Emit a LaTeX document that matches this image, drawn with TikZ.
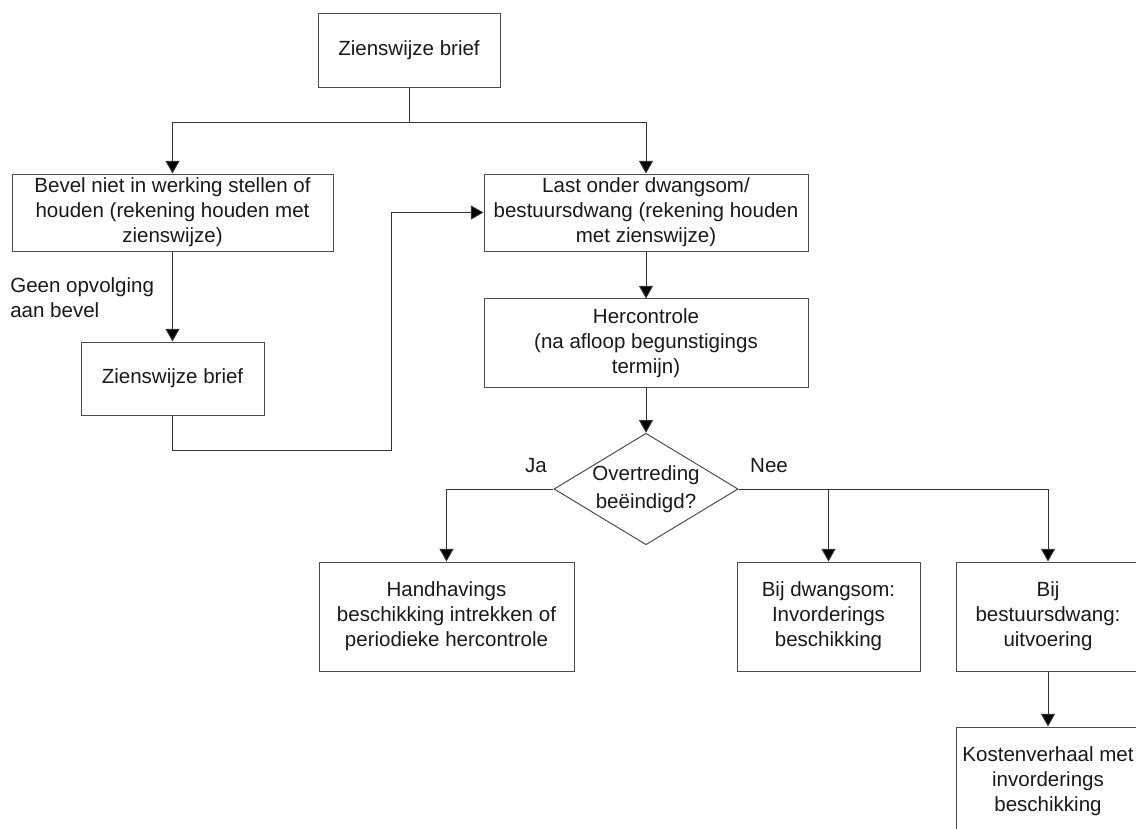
\documentclass[tikz,border=0pt]{standalone}
\usepackage{fontspec}
\setmainfont{Liberation Sans}
\usetikzlibrary{arrows.meta, positioning, shapes.geometric}

\begin{document}
\begin{tikzpicture}[
    box/.style={rectangle, draw=black!70, line width=0.7pt, align=center,
        inner sep=2pt, text=black!90, font=\fontsize{14.6}{17.8}\selectfont},
    decision/.style={diamond, draw=black!70, line width=0.7pt, align=center,
        inner sep=0pt, aspect=1.65, minimum width=4.5cm, minimum height=2.725cm,
        text=black!90, font=\fontsize{14.6}{19.5}\selectfont},
    note/.style={align=left, inner sep=0pt, text=black!90,
        font=\fontsize{14.6}{17.8}\selectfont},
    line/.style={draw=black!80, line width=0.7pt},
    >={Triangle[length=9pt, width=10pt, fill=black]}
]
\useasboundingbox (0,0) rectangle (28.4,-20.725);

% Nodes
\node[box, minimum width=4.55cm, minimum height=1.85cm] (brief1) at (10.225,-1.25) {Zienswijze brief};
\node[box, minimum width=8.025cm, minimum height=1.925cm] (bevel) at (4.3125,-5.3125)
    {Bevel niet in werking stellen of\\houden (rekening houden met\\zienswijze)};
\node[box, minimum width=8.1cm, minimum height=1.925cm] (last) at (16.15,-5.3125)
    {Last onder dwangsom/\\bestuursdwang (rekening houden\\met zienswijze)};
\node[box, minimum width=4.575cm, minimum height=1.825cm] (brief2) at (4.3125,-9.4625) {Zienswijze brief};
\node[box, minimum width=8.1cm, minimum height=2.225cm, below=1.175cm of last] (herc)
    {Hercontrole\\(na afloop begunstigings\\termijn)};
\node[decision] (dec) at (16.15,-12.225) {Overtreding\\beëindigd?};
\node[box, minimum width=6.375cm, minimum height=2.725cm] (handh) at (11.1625,-15.4125)
    {Handhavings\\beschikking intrekken of\\periodieke hercontrole};
\node[box, minimum width=4.575cm, minimum height=2.725cm] (dwang) at (20.7125,-15.4125)
    {Bij dwangsom:\\Invorderings\\beschikking};
\node[box, minimum width=4.6cm, minimum height=2.725cm] (bestuur) at (26.2,-15.4125)
    {Bij\\bestuursdwang:\\uitvoering};
\node[box, minimum width=4.6cm, minimum height=2.725cm, below=1.375cm of bestuur] (kosten)
    {Kostenverhaal met\\invorderings\\beschikking};

% Labels
\node[note, anchor=west] (geen) at (0.25,-7.44) {Geen opvolging\\aan bevel};
\node[note] (ja) at (13.4,-11.65) {Ja};
\node[note] (nee) at (19.225,-11.65) {Nee};

% Split below the first letter
\coordinate (split) at (10.225,-3.05);
\draw[line] (brief1.south) -- (split);
\draw[line, ->] (split) -| (bevel.north);
\draw[line, ->] (split) -| (last.north);

% Left column and loop back
\draw[line, ->] (bevel.south) -- (brief2.north);
\coordinate (loop) at (9.775,-11.25);
\draw[line, ->] (brief2.south) |- (loop) |- (last.west);

% Right column
\draw[line, ->] (last.south) -- (herc.north);
\draw[line, ->] (herc.south) -- (dec.north);

% Ja / Nee branches
\draw[line, ->] (dec.west) -| (handh.north);
\draw[line, ->] (dec.east) -| (bestuur.north);
\draw[line, ->] (dec.east -| dwang.north) -- (dwang.north);
\draw[line, ->] (bestuur.south) -- (kosten.north);

\end{tikzpicture}
\end{document}
